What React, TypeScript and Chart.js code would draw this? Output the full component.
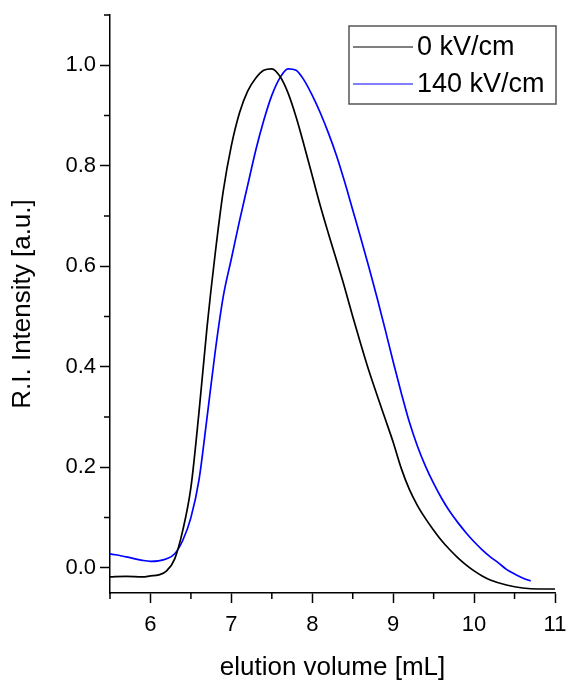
import React, { useEffect, useRef } from "react";
import { Chart, registerables } from "chart.js";

Chart.register(...registerables);

const xBlack = [5.5, 5.7, 5.9, 6.0, 6.1, 6.2, 6.3, 6.4, 6.5, 6.6, 6.7, 6.8, 6.9, 7.0, 7.1, 7.2, 7.3, 7.4, 7.5, 7.6, 7.7, 7.8, 7.9, 8.0, 8.1, 8.2, 8.3, 8.4, 8.5, 8.6, 8.7, 8.8, 8.9, 9.0, 9.1, 9.2, 9.3, 9.4, 9.5, 9.6, 9.7, 9.8, 9.9, 10.0, 10.1, 10.2, 10.4, 10.6, 10.8, 11.0];
const yBlack = [-0.018, -0.017, -0.018, -0.016, -0.014, -0.006, 0.018, 0.075, 0.16, 0.31, 0.48, 0.625, 0.75, 0.84, 0.905, 0.948, 0.974, 0.99, 0.993, 0.978, 0.945, 0.897, 0.84, 0.78, 0.72, 0.665, 0.612, 0.558, 0.5, 0.445, 0.392, 0.344, 0.297, 0.25, 0.198, 0.156, 0.124, 0.098, 0.075, 0.054, 0.036, 0.02, 0.006, -0.006, -0.016, -0.024, -0.034, -0.04, -0.042, -0.042];

const xBlue = [5.5, 5.7, 5.9, 6.0, 6.1, 6.2, 6.3, 6.4, 6.5, 6.6, 6.7, 6.8, 6.9, 7.0, 7.1, 7.2, 7.3, 7.4, 7.5, 7.6, 7.7, 7.8, 7.9, 8.0, 8.1, 8.2, 8.3, 8.4, 8.5, 8.6, 8.7, 8.8, 8.9, 9.0, 9.1, 9.2, 9.3, 9.4, 9.5, 9.6, 9.7, 9.8, 9.9, 10.0, 10.1, 10.2, 10.3, 10.4, 10.5, 10.6, 10.7];
const yBlue = [0.028, 0.022, 0.015, 0.013, 0.014, 0.018, 0.028, 0.055, 0.1, 0.175, 0.3, 0.43, 0.54, 0.615, 0.69, 0.76, 0.83, 0.89, 0.94, 0.975, 0.993, 0.99, 0.97, 0.94, 0.905, 0.865, 0.82, 0.768, 0.712, 0.656, 0.598, 0.538, 0.475, 0.41, 0.348, 0.29, 0.242, 0.202, 0.168, 0.138, 0.112, 0.09, 0.07, 0.052, 0.036, 0.022, 0.01, -0.003, -0.012, -0.02, -0.026];

const seriesLabels = ["0 kV/cm", "140 kV/cm"];
const seriesColors = ["#000000", "#0000ff"];
const xTitle = "elution volume [mL]";
const yTitle = "R.I. Intensity [a.u.]";
const xMin = 5.5, xMax = 11;
const yMin = -0.05, yMax = 1.1;

const FONT = "'Liberation Sans', Arial, sans-serif";

const minorTicks = {
  id: "minorTicks",
  afterDraw(chart: any) {
    const { ctx } = chart;
    const xs = chart.scales.x;
    const ys = chart.scales.y;
    ctx.save();
    ctx.strokeStyle = "#000";
    ctx.lineWidth = 1.5;
    ctx.beginPath();
    xs.ticks.forEach((t: any) => {
      if (Math.abs(t.value - Math.round(t.value)) > 1e-6) {
        const px = xs.getPixelForValue(t.value);
        ctx.moveTo(px, xs.top);
        ctx.lineTo(px, xs.top + 6);
      }
    });
    ys.ticks.forEach((t: any) => {
      const r = Math.round(t.value * 10);
      if (r % 2 !== 0) {
        const py = ys.getPixelForValue(t.value);
        ctx.moveTo(ys.right, py);
        ctx.lineTo(ys.right - 6, py);
      }
    });
    ctx.stroke();
    ctx.restore();
  },
};

const boxLegend = {
  id: "boxLegend",
  afterDraw(chart: any) {
    const { ctx } = chart;
    const x0 = 349, y0 = 26, w = 207, h = 78;
    ctx.save();
    ctx.fillStyle = "#fff";
    ctx.fillRect(x0, y0, w, h);
    ctx.strokeStyle = "#555";
    ctx.lineWidth = 1.5;
    ctx.strokeRect(x0, y0, w, h);
    ctx.font = `27px ${FONT}`;
    ctx.textBaseline = "middle";
    chart.data.datasets.forEach((ds: any, i: number) => {
      const y = y0 + 21 + i * 37;
      ctx.strokeStyle = ds.borderColor;
      ctx.lineWidth = 1.2;
      ctx.beginPath();
      ctx.moveTo(x0 + 4, y);
      ctx.lineTo(x0 + 64, y);
      ctx.stroke();
      ctx.fillStyle = "#000";
      ctx.fillText(ds.label, x0 + 68, y + 1);
    });
    ctx.restore();
  },
};

export default function App() {
  const ref = useRef<HTMLCanvasElement>(null);
  useEffect(() => {
    const canvas = ref.current!;
    const mk = (xs: number[], ys: number[]) => xs.map((x, i) => ({ x, y: ys[i] }));
    const chart = new Chart(canvas, {
      type: "line",
      data: {
        datasets: [
          {
            label: seriesLabels[0],
            data: mk(xBlack, yBlack),
            borderColor: seriesColors[0],
            borderWidth: 1.7,
            pointRadius: 0,
            cubicInterpolationMode: "monotone",
          },
          {
            label: seriesLabels[1],
            data: mk(xBlue, yBlue),
            borderColor: seriesColors[1],
            borderWidth: 1.7,
            pointRadius: 0,
            cubicInterpolationMode: "monotone",
          },
        ],
      },
      options: {
        animation: false,
        responsive: false,
        maintainAspectRatio: false,
        layout: { padding: { top: 15, right: 13, left: 0, bottom: 0 } },
        plugins: { legend: { display: false }, tooltip: { enabled: false } },
        scales: {
          x: {
            type: "linear",
            min: xMin,
            max: xMax,
            afterFit: (s: any) => { s.height = 93; s.paddingLeft = 0; s.paddingRight = 0; },
            ticks: {
              stepSize: 0.5,
              autoSkip: false,
              maxRotation: 0,
              color: "#000",
              font: { family: FONT, size: 22 },
              padding: 9,
              callback: (v: any) => (Math.abs(v - Math.round(v)) < 1e-6 ? String(Math.round(v)) : ""),
            },
            grid: {
              drawOnChartArea: false,
              drawTicks: true,
              tickLength: 10,
              tickWidth: 1.5,
              tickColor: (c: any) => (c.tick && Math.abs(c.tick.value - Math.round(c.tick.value)) < 1e-6 ? "#000" : "rgba(0,0,0,0)"),
            },
            border: { color: "#000", width: 1.5 },
            title: { display: true, text: xTitle, color: "#000", font: { family: FONT, size: 26 }, padding: { top: 0, bottom: 3 } },
          },
          y: {
            type: "linear",
            min: yMin,
            max: yMax,
            afterFit: (s: any) => { s.width = 110; s.paddingTop = 0; s.paddingBottom = 0; },
            ticks: {
              stepSize: 0.1,
              includeBounds: false,
              autoSkip: false,
              color: "#000",
              font: { family: FONT, size: 22 },
              padding: 4,
              callback: (v: any) => (Math.round(v * 10) % 2 === 0 ? Number(v).toFixed(1) : ""),
            },
            grid: {
              drawOnChartArea: false,
              drawTicks: true,
              tickLength: 10,
              tickWidth: 1.5,
              tickColor: (c: any) => (c.tick && Math.round(c.tick.value * 10) % 2 === 0 ? "#000" : "rgba(0,0,0,0)"),
            },
            border: { color: "#000", width: 1.5 },
            title: { display: true, text: yTitle, color: "#000", font: { family: FONT, size: 26 }, padding: { top: 7, bottom: 0 } },
          },
        },
      },
      plugins: [minorTicks, boxLegend],
    });
    return () => chart.destroy();
  }, []);
  return (
    <div style={{ position: "fixed", left: 0, top: 0, width: 568, height: 686, background: "#fff" }}>
      <canvas ref={ref} width={568} height={686} style={{ width: 568, height: 686, display: "block" }} />
    </div>
  );
}
